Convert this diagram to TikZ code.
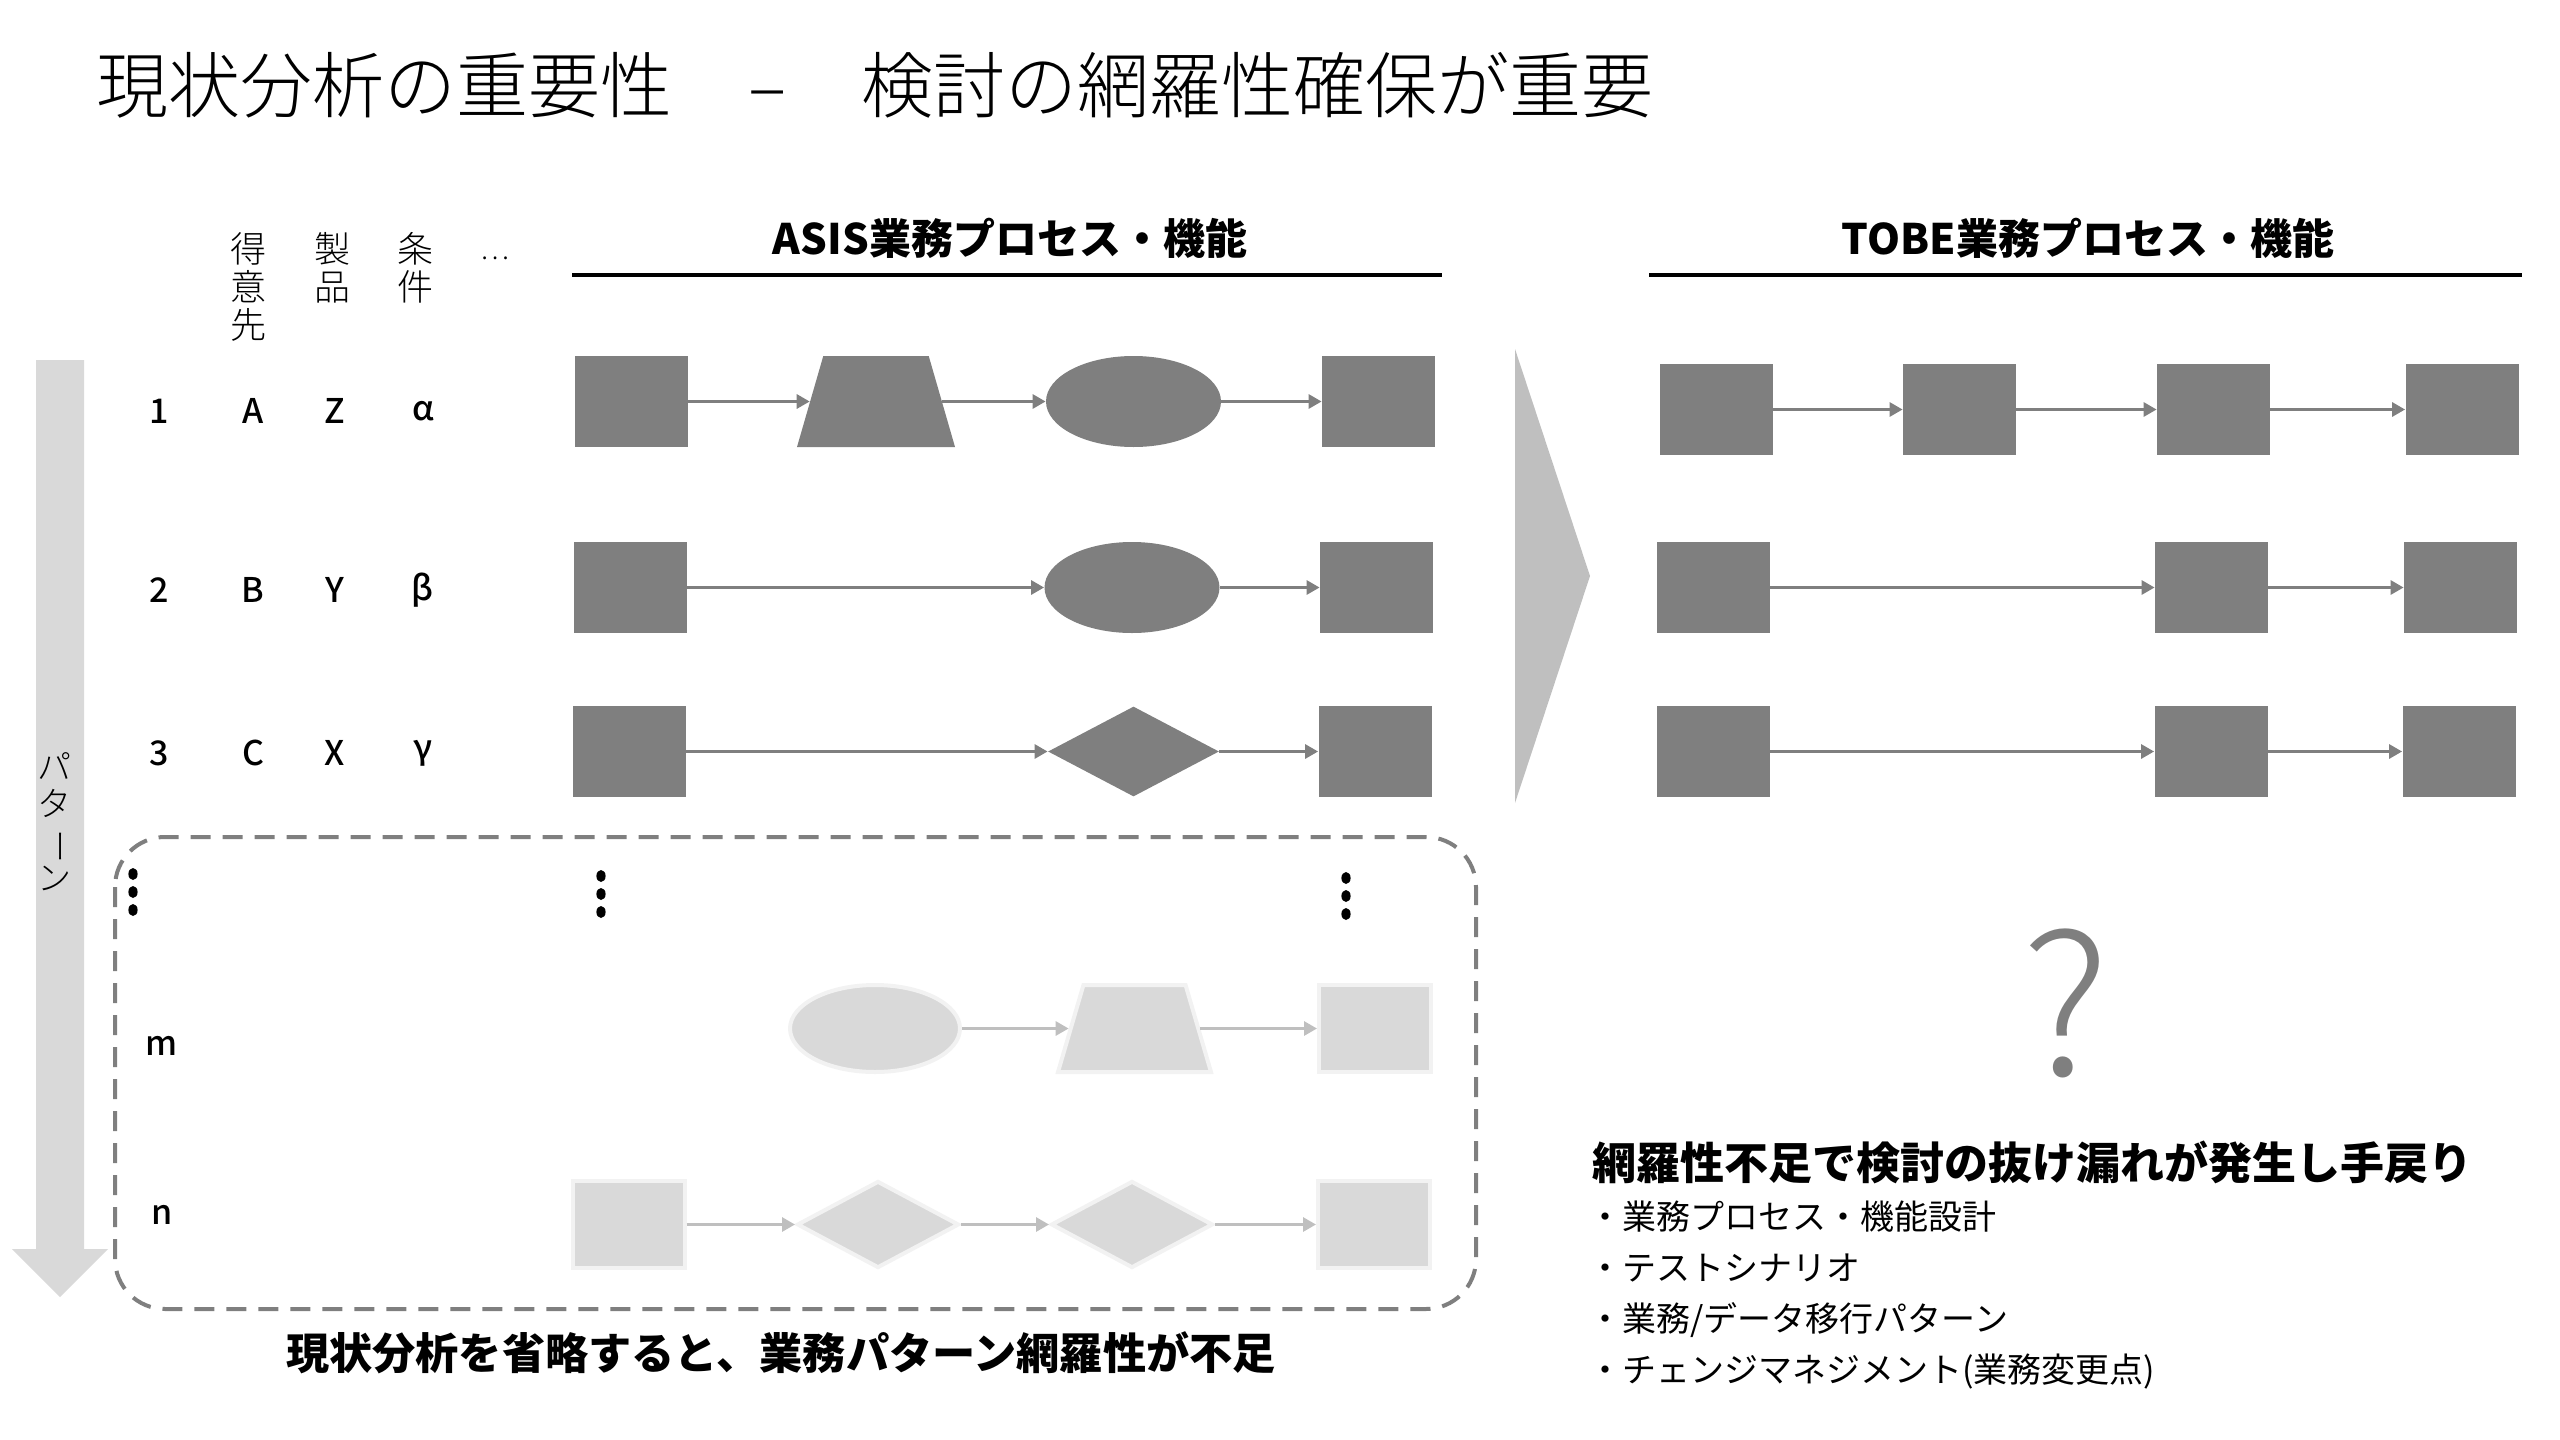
\documentclass[tikz,border=0pt]{standalone}
\usepackage{fontspec}
\usepackage{graphicx}
\setmainfont{Noto Sans CJK JP}
\newfontfamily\lightfont{Noto Sans CJK JP}[UprightFont={* Light}]
\newfontfamily\mediumfont{Noto Sans CJK JP}[UprightFont={* Medium}]
\usetikzlibrary{shapes.geometric,arrows.meta}
\definecolor{boxgray}{HTML}{7F7F7F}
\definecolor{lightfill}{HTML}{D9D9D9}
\definecolor{lightedge}{HTML}{F2F2F2}
\definecolor{lightarrow}{HTML}{BFBFBF}
\definecolor{chevgray}{HTML}{BFBFBF}
\begin{document}
\begin{tikzpicture}[x=0.5pt,y=-0.5pt,
  dbox/.style={rectangle, fill=boxgray, inner sep=0, minimum width=56.5pt, minimum height=45.5pt},
  dell/.style={ellipse, fill=boxgray, inner sep=0, minimum width=87.5pt, minimum height=45.5pt},
  dtrap/.style={trapezium, trapezium left angle=76, trapezium right angle=76, trapezium stretches=true, fill=boxgray, inner sep=1pt, minimum width=79pt, minimum height=45.5pt},
  ddia/.style={diamond, fill=boxgray, inner sep=0, minimum width=85.5pt, minimum height=45pt},
  lbox/.style={rectangle, fill=lightfill, draw=lightedge, line width=2pt, inner sep=0, minimum width=56pt, minimum height=43.5pt},
  lell/.style={ellipse, fill=lightfill, draw=lightedge, line width=2pt, inner sep=0, minimum width=85pt, minimum height=43.5pt},
  ltrap/.style={trapezium, trapezium left angle=76, trapezium right angle=76, trapezium stretches=true, fill=lightfill, draw=lightedge, line width=2pt, inner sep=1pt, minimum width=76.5pt, minimum height=43.5pt},
  ldia/.style={diamond, fill=lightfill, draw=lightedge, line width=2pt, inner sep=0, minimum width=81pt, minimum height=43.5pt},
  conn/.style={draw=boxgray, line width=1.5pt, -{Triangle[length=6.5pt,width=7pt]}},
  lconn/.style={draw=lightarrow, line width=1.5pt, -{Triangle[length=6.5pt,width=7pt]}},
  titletext/.style={font=\lightfont\fontsize{36pt}{40pt}\selectfont, anchor=west, inner sep=0},
  hdrtext/.style={font=\bfseries\fontsize{21pt}{24pt}\selectfont, inner sep=0},
  coltext/.style={font=\lightfont\fontsize{18pt}{19pt}\selectfont, align=center, anchor=north, inner sep=0},
  rowtext/.style={font=\mediumfont\fontsize{17pt}{20pt}\selectfont, inner sep=0},
  boldtext/.style={font=\bfseries\fontsize{22pt}{26pt}\selectfont, inner sep=0},
  bullettext/.style={font=\fontsize{17pt}{20pt}\selectfont, anchor=west, inner sep=0},
  hdrline/.style={draw=black, line width=2pt}
]
\useasboundingbox (0,0) rectangle (2560,1440);

% title
\node[titletext] (title) at (96,85) {現状分析の重要性\hspace{1.05em}–\hspace{1.05em}検討の網羅性確保が重要};

% headers
\node[hdrtext] (asishdr) at (1010,238) {ASIS業務プロセス・機能};
\coordinate (asisL) at (572,275);
\coordinate (asisR) at (1442,275);
\draw[hdrline] (asisL) -- (asisR);
\node[hdrtext] (tobehdr) at (2088,238) {TOBE業務プロセス・機能};
\coordinate (tobeL) at (1649,275);
\coordinate (tobeR) at (2522,275);
\draw[hdrline] (tobeL) -- (tobeR);

% column headers
\node[coltext] (c1) at (248,232) {得\\意\\先};
\node[coltext] (c2) at (332,232) {製\\品};
\node[coltext] (c3) at (415,232) {条\\件};
\node[font=\lightfont\fontsize{14pt}{16pt}\selectfont, inner sep=0] (c4) at (495,258) {…};

% left pattern arrow
\fill[lightfill] (36,360) -- (84,360) -- (84,1249) -- (108,1249) -- (60,1297) -- (12,1249) -- (36,1249) -- cycle;
\node[font=\lightfont\fontsize{17pt}{18.5pt}\selectfont, align=center, inner sep=0] (pat) at (55,822) {パ\\タ\\\rotatebox[origin=c]{-90}{ー}\\ン};

% chevron
\fill[chevgray] (1515,349) -- (1590,576) -- (1515,803) -- cycle;

% row labels
\node[rowtext] (r1n) at (159,411) {1};
\node[rowtext] (r1a) at (253,411) {A};
\node[rowtext] (r1b) at (335,411) {Z};
\node[rowtext] (r1c) at (423,411) {α};
\node[rowtext] (r2n) at (159,590) {2};
\node[rowtext] (r2a) at (253,590) {B};
\node[rowtext] (r2b) at (335,590) {Y};
\node[rowtext] (r2c) at (423,590) {β};
\node[rowtext] (r3n) at (159,753) {3};
\node[rowtext] (r3a) at (253,753) {C};
\node[rowtext] (r3b) at (335,753) {X};
\node[rowtext] (r3c) at (423,753) {γ};
\node[rowtext] (rmn) at (162,1046) {m};
\node[rowtext] (rnn) at (162,1215) {n};

% ASIS row 1
\node[dbox] (a11) at (631.5,401.5) {};
\node[dtrap] (a12) at (876,401.5) {};
\node[dell] (a13) at (1133.5,401.5) {};
\node[dbox] (a14) at (1378.5,401.5) {};
\draw[conn] (a11) -- (a12);
\draw[conn] (a12) -- (a13);
\draw[conn] (a13) -- (a14);
% ASIS row 2
\node[dbox] (a21) at (630.5,587.5) {};
\node[dell] (a23) at (1132,587.5) {};
\node[dbox] (a24) at (1376.5,587.5) {};
\draw[conn] (a21) -- (a23);
\draw[conn] (a23) -- (a24);
% ASIS row 3
\node[dbox] (a31) at (629,751.5) {};
\node[ddia] (a33) at (1133.5,751.5) {};
\node[dbox] (a34) at (1375,751.5) {};
\draw[conn] (a31) -- (a33);
\draw[conn] (a33) -- (a34);

% TOBE rows
\node[dbox] (t11) at (1716,409.5) {};
\node[dbox] (t12) at (1959.5,409.5) {};
\node[dbox] (t13) at (2213.5,409.5) {};
\node[dbox] (t14) at (2462,409.5) {};
\draw[conn] (t11) -- (t12);
\draw[conn] (t12) -- (t13);
\draw[conn] (t13) -- (t14);
\node[dbox] (t21) at (1713,587.5) {};
\node[dbox] (t23) at (2211.5,587.5) {};
\node[dbox] (t24) at (2460.5,587.5) {};
\draw[conn] (t21) -- (t23);
\draw[conn] (t23) -- (t24);
\node[dbox] (t31) at (1713,751.5) {};
\node[dbox] (t33) at (2211,751.5) {};
\node[dbox] (t34) at (2459,751.5) {};
\draw[conn] (t31) -- (t33);
\draw[conn] (t33) -- (t34);

% dashed frame
\draw[boxgray, line width=2pt, dash pattern=on 10pt off 6pt, rounded corners=25pt] (115,837) rectangle (1476,1309);

% vertical ellipses
\foreach \cx/\cy in {133/874, 601/876, 1346/878}{
  \fill[black] (\cx,\cy) ellipse [x radius=2.3pt, y radius=3pt];
  \fill[black] (\cx,\cy+18) ellipse [x radius=2.3pt, y radius=3pt];
  \fill[black] (\cx,\cy+36) ellipse [x radius=2.3pt, y radius=3pt];
}

% light row m
\node[lell] (m2) at (875,1028.5) {};
\node[ltrap] (m3) at (1134.5,1028.5) {};
\node[lbox] (m4) at (1375,1028.5) {};
\draw[lconn] (m2) -- (m3);
\draw[lconn] (m3) -- (m4);
% light row n
\node[lbox] (n1) at (628.5,1224.5) {};
\node[ldia] (n2) at (878,1224.5) {};
\node[ldia] (n3) at (1132,1224.5) {};
\node[lbox] (n4) at (1374,1224.5) {};
\draw[lconn] (n1) -- (n2);
\draw[lconn] (n2) -- (n3);
\draw[lconn] (n3) -- (n4);

% bottom left caption
\node[boldtext, font=\bfseries\fontsize{21.6pt}{26pt}\selectfont] (cap) at (781,1353) {現状分析を省略すると、業務パターン網羅性が不足};

% question mark
\node[font=\lightfont\fontsize{97pt}{100pt}\selectfont, text=boxgray, inner sep=0] (qm) at (2066,1003) {?};

% right texts
\node[boldtext, anchor=west] (res) at (1592,1162) {網羅性不足で検討の抜け漏れが発生し手戻り};
\node[bullettext] (b1) at (1588,1217) {・業務プロセス・機能設計};
\node[bullettext] (b2) at (1588,1268) {・テストシナリオ};
\node[bullettext] (b3) at (1588,1320) {・業務/データ移行パターン};
\node[bullettext] (b4) at (1588,1372) {・チェンジマネジメント(業務変更点)};
\end{tikzpicture}
\end{document}
